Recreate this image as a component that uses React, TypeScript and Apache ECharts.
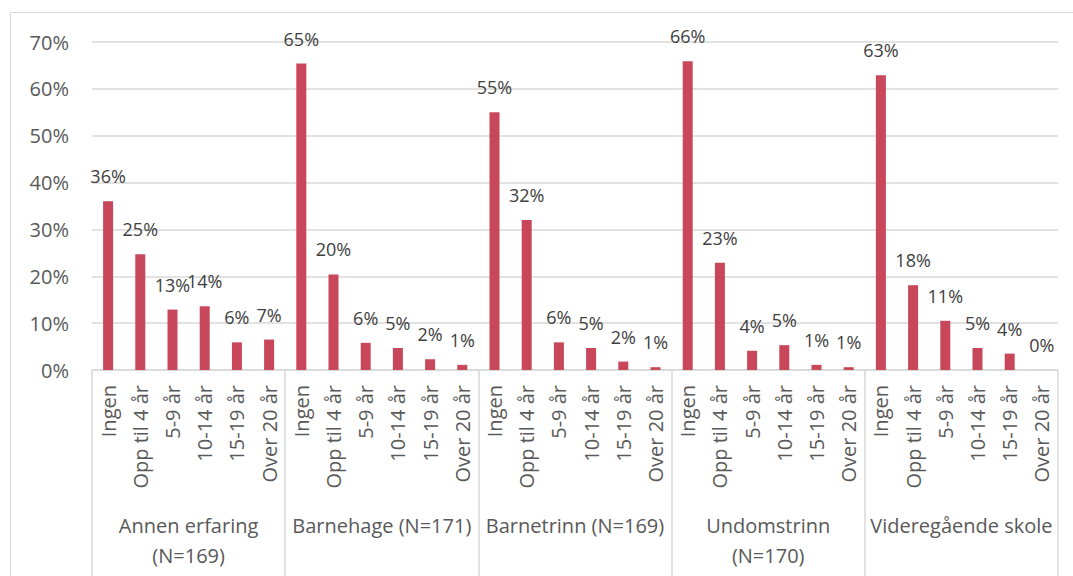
import React, { useEffect, useRef } from "react";
import * as echarts from "echarts";

const groups = [
  "Annen erfaring\n(N=169)",
  "Barnehage (N=171)",
  "Barnetrinn (N=169)",
  "Undomstrinn\n(N=170)",
  "Videregående skole",
];
const subCategories = ["Ingen", "Opp til 4 år", "5-9 år", "10-14 år", "15-19 år", "Over 20 år"];
const annenErfaring = [36.0, 24.7, 12.9, 13.6, 5.9, 6.5];
const barnehage = [65.4, 20.4, 5.8, 4.7, 2.3, 1.1];
const barnetrinn = [55.0, 32.0, 5.9, 4.7, 1.8, 0.6];
const undomstrinn = [65.9, 22.9, 4.1, 5.3, 1.1, 0.6];
const videregaende = [62.9, 18.1, 10.5, 4.7, 3.5, 0.0];
const yTicks = [0, 10, 20, 30, 40, 50, 60, 70];

const FONT = "Open Sans";

export default function App() {
  const ref = useRef<HTMLDivElement>(null);
  useEffect(() => {
    document.body.style.margin = "0";
    if (!ref.current) return;
    const chart = echarts.init(ref.current, undefined, { renderer: "svg" });
    const values = [...annenErfaring, ...barnehage, ...barnetrinn, ...undomstrinn, ...videregaende];
    const cats: string[] = [];
    groups.forEach(() => subCategories.forEach((c) => cats.push(c)));
    chart.setOption({
      animation: false,
      textStyle: { fontFamily: FONT },
      graphic: [
        {
          type: "rect",
          shape: { x: 10.5, y: 12.5, width: 1100, height: 700 },
          style: { fill: "none", stroke: "#d9d9d9", lineWidth: 1 },
          silent: true,
        },
      ],
      grid: { left: 92, right: 15, top: 42, bottom: 206 },
      yAxis: {
        type: "value",
        min: yTicks[0],
        max: yTicks[yTicks.length - 1],
        interval: 10,
        axisLine: { show: false },
        axisTick: { show: false },
        splitLine: { lineStyle: { color: "#d9d9d9", width: 1.5 } },
        axisLabel: {
          formatter: (v: number) => v + "%",
          color: "#595959",
          fontSize: 20,
          fontFamily: FONT,
          margin: 23,
        },
      },
      xAxis: [
        {
          type: "category",
          data: cats,
          position: "bottom",
          axisLine: { lineStyle: { color: "#d9d9d9", width: 1.5 } },
          axisTick: { show: false },
          axisLabel: {
            interval: 0,
            rotate: 90,
            color: "#595959",
            fontSize: 20,
            fontFamily: FONT,
            margin: 15,
          },
        },
        {
          type: "category",
          data: groups,
          position: "bottom",
          axisLine: { show: false },
          axisTick: { show: true, length: 230, lineStyle: { color: "#d9d9d9", width: 1.5 } },
          axisLabel: {
            interval: 0,
            color: "#595959",
            fontSize: 20,
            fontFamily: FONT,
            margin: 140,
            verticalAlign: "top",
            lineHeight: 30,
            align: "center",
          },
        },
      ],
      series: [
        {
          type: "bar",
          xAxisIndex: 0,
          data: values,
          barWidth: 10,
          itemStyle: { color: "#C9475A" },
          label: {
            show: true,
            position: "top",
            distance: 16,
            formatter: (p: any) => Math.round(p.value) + "%",
            color: "#404040",
            fontSize: 18,
            fontFamily: FONT,
          },
        },
      ],
    });
    return () => chart.dispose();
  }, []);
  return <div ref={ref} style={{ width: 1073, height: 576 }} />;
}
